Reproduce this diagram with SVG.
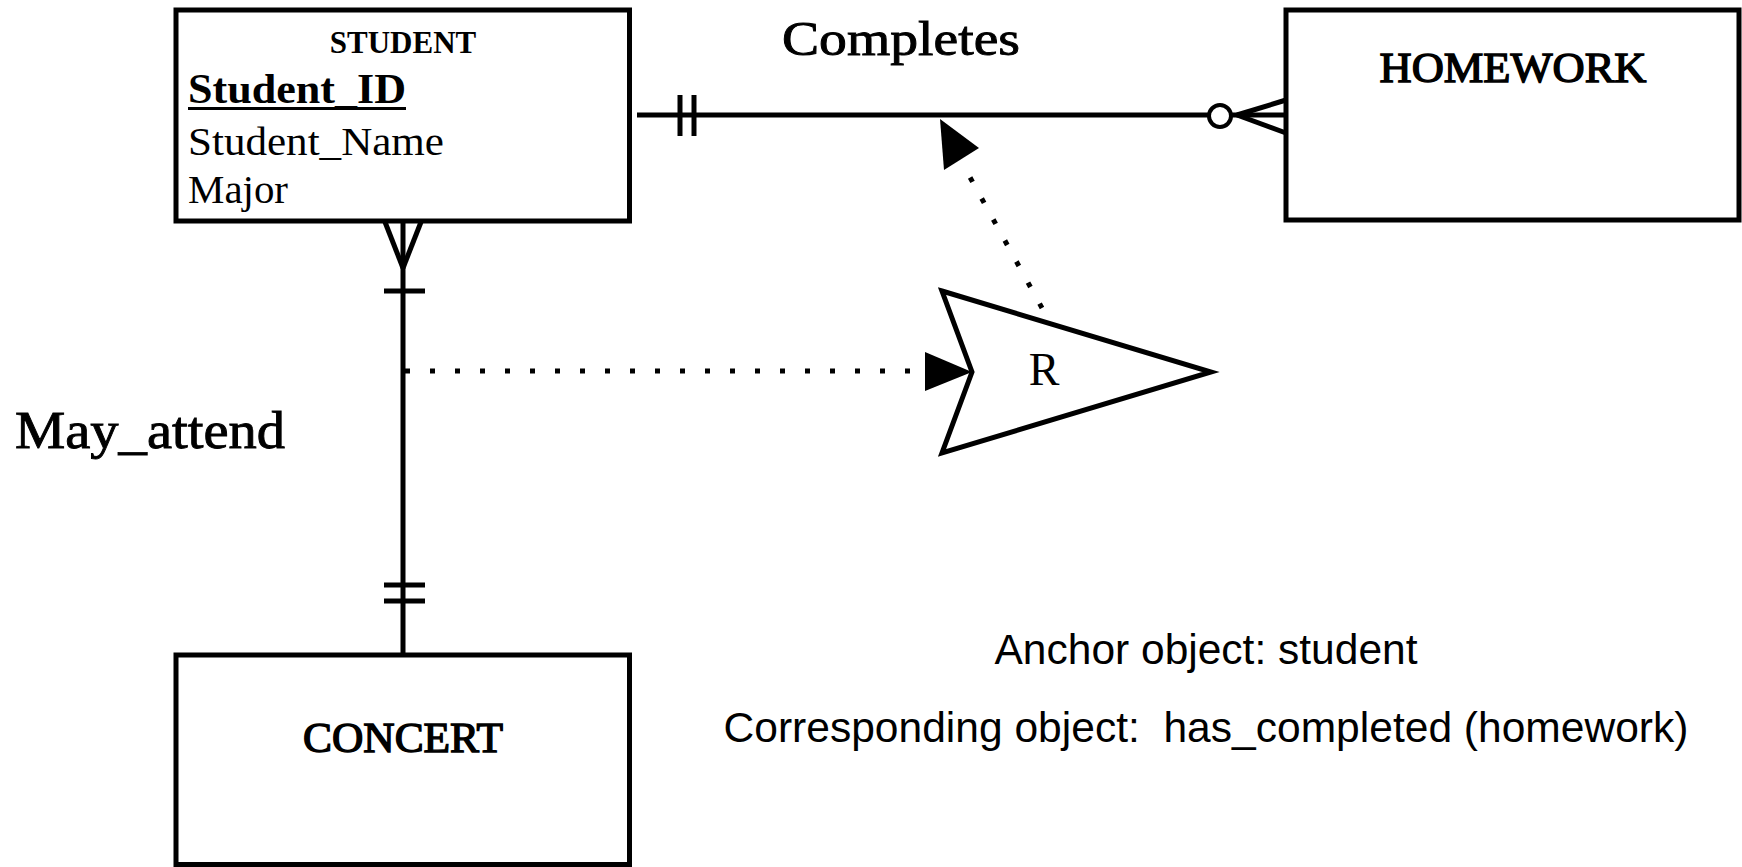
<svg xmlns="http://www.w3.org/2000/svg" width="1742" height="867" viewBox="0 0 1742 867">
<style>
.box{fill:#fff;stroke:#000;stroke-width:5}
.ln{stroke:#000;stroke-width:5;fill:none}
.dot{stroke:#000;stroke-width:5;fill:none;stroke-dasharray:5 20}
.serif{font-family:"Liberation Serif","Times New Roman",serif;fill:#000}
.sans{font-family:"Liberation Sans",Arial,sans-serif;fill:#000;font-size:42px}
.b{font-weight:bold}
.semi{stroke:#000;stroke-width:0.9}
.semi2{stroke:#000;stroke-width:1.4}
</style>
<rect width="1742" height="867" fill="#fff"/>
<g id="connectors">
  <line class="ln" x1="637" y1="115" x2="1208" y2="115"/>
  <line class="ln" x1="680" y1="95" x2="680" y2="136"/>
  <line class="ln" x1="694" y1="95" x2="694" y2="136"/>
  <circle cx="1220" cy="116" r="11" fill="#fff" stroke="#000" stroke-width="4"/>
  <line class="ln" x1="1231" y1="115" x2="1286" y2="115"/>
  <line class="ln" x1="1237" y1="115" x2="1286" y2="100"/>
  <line class="ln" x1="1237" y1="115" x2="1286" y2="133"/>
  <line class="ln" x1="403" y1="221" x2="403" y2="655"/>
  <line class="ln" x1="385" y1="222" x2="403" y2="268"/>
  <line class="ln" x1="421" y1="222" x2="403" y2="268"/>
  <line class="ln" x1="384" y1="291" x2="425" y2="291"/>
  <line class="ln" x1="384" y1="585" x2="425" y2="585"/>
  <line class="ln" x1="384" y1="601" x2="425" y2="601"/>
  <line class="dot" x1="405" y1="371" x2="925" y2="371"/>
  <polygon points="925,352 972,372 925,391" fill="#000"/>
  <line class="dot" x1="1042" y1="308" x2="966" y2="170" style="stroke-dasharray:5 19"/>
  <polygon points="940,119 979,148 944,170" fill="#000"/>
</g>
<g id="student">
  <rect class="box" x="176" y="10" width="453.5" height="211"/>
  <text class="serif b" x="403" y="53" font-size="31" text-anchor="middle">STUDENT</text>
  <text class="serif b" x="188" y="103" font-size="43" textLength="218" lengthAdjust="spacingAndGlyphs">Student_ID</text>
  <line x1="188" y1="108.5" x2="406" y2="108.5" stroke="#000" stroke-width="3"/>
  <text class="serif" x="188" y="155" font-size="41" textLength="256" lengthAdjust="spacingAndGlyphs">Student_Name</text>
  <text class="serif" x="188" y="203" font-size="41" textLength="100" lengthAdjust="spacingAndGlyphs">Major</text>
</g>
<g id="homework">
  <rect class="box" x="1286" y="10" width="453" height="210"/>
  <text class="serif semi2" x="1513" y="82" font-size="43" text-anchor="middle" textLength="267" lengthAdjust="spacingAndGlyphs">HOMEWORK</text>
</g>
<g id="concert">
  <rect class="box" x="176" y="655" width="453.5" height="209.5"/>
  <text class="serif semi2" x="403" y="752" font-size="43" text-anchor="middle" textLength="200" lengthAdjust="spacingAndGlyphs">CONCERT</text>
</g>
<g id="r">
  <polygon points="942,291 1211,372 942,453 972,372" fill="#fff" stroke="#000" stroke-width="5" stroke-linejoin="miter"/>
  <text class="serif" x="1044" y="385" font-size="46" text-anchor="middle">R</text>
</g>
<g id="labels">
  <text class="serif semi" x="782" y="55" font-size="48" textLength="238" lengthAdjust="spacingAndGlyphs">Completes</text>
  <text class="serif semi" x="15" y="448" font-size="52" textLength="270" lengthAdjust="spacingAndGlyphs">May_attend</text>
  <text class="sans" x="1206" y="664" text-anchor="middle" textLength="423" lengthAdjust="spacingAndGlyphs">Anchor object: student</text>
  <text class="sans" x="1206" y="742" text-anchor="middle" textLength="965" lengthAdjust="spacingAndGlyphs" xml:space="preserve">Corresponding object:  has_completed (homework)</text>
</g>
</svg>
